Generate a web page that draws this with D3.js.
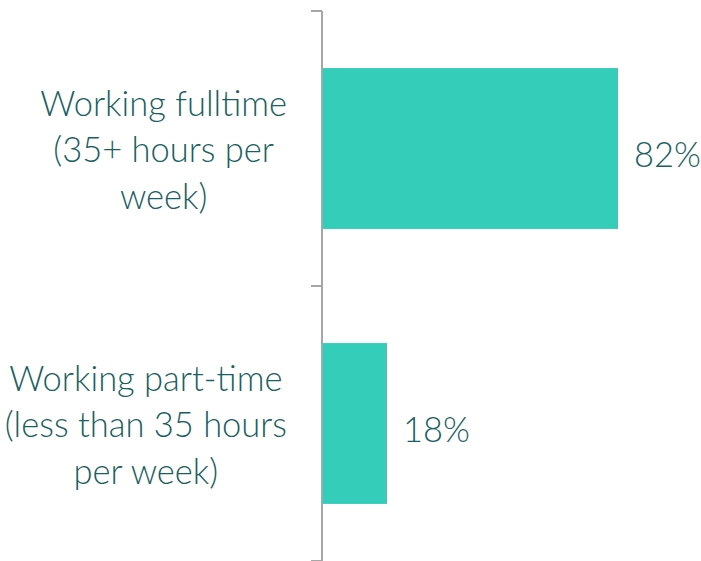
<!DOCTYPE html>
<html>
<head>
<meta charset="utf-8">
<script src="https://cdn.jsdelivr.net/npm/d3@7"></script>
<style>
  body { margin: 0; background: #fff; }
  svg { display: block; }
</style>
</head>
<body>
<svg width="701" height="561"></svg>
<script>
var svg = d3.select('svg');

// Chart data
var categories = ['fulltime', 'parttime'];
var labelLines = [
    ['Working fulltime', '(35+ hours per', 'week)'],
    ['Working part-time', '(less than 35 hours', 'per week)']
];
var values = [82, 18];

var axisX = 322;
var labelRight = 287;
var fontFamily = 'Lato, "Open Sans", sans-serif';
var textColor = '#1b5f5f';
var barColor = '#33cdb9';
var fontSize = '34.5px';

var x = d3.scaleLinear()
    .domain([0, 100])
    .range([axisX, axisX + 361]);

var y = d3.scaleBand()
    .domain(categories)
    .range([11, 561])
    .paddingInner(0.415)
    .paddingOuter(0.2075);

// Bars
svg.selectAll('.bar')
    .data(categories)
    .enter()
    .append('rect')
    .attr('class', 'bar')
    .attr('x', x(0))
    .attr('y', function(d) { return y(d); })
    .attr('width', function(d, i) { return x(values[i]) - x(0); })
    .attr('height', y.bandwidth())
    .attr('fill', barColor);

// Axis line and tick marks at band boundaries
var step = y.step();
var tickYs = d3.range(categories.length + 1).map(function(i) {
    return y.range()[0] + i * step;
});
svg.append('line')
    .attr('x1', axisX).attr('x2', axisX)
    .attr('y1', tickYs[0]).attr('y2', tickYs[tickYs.length - 1])
    .attr('stroke', '#a6a6a6')
    .attr('stroke-width', 2);
svg.selectAll('.tick')
    .data(tickYs)
    .enter()
    .append('line')
    .attr('class', 'tick')
    .attr('x1', axisX - 11).attr('x2', axisX)
    .attr('y1', function(d) { return d; })
    .attr('y2', function(d) { return d; })
    .attr('stroke', '#a6a6a6')
    .attr('stroke-width', 2);

// Value labels
svg.selectAll('.value')
    .data(categories)
    .enter()
    .append('text')
    .attr('class', 'value')
    .attr('x', function(d, i) { return x(values[i]) + 16; })
    .attr('y', function(d) { return y(d) + y.bandwidth() / 2 + 5; })
    .attr('dominant-baseline', 'central')
    .style('font-family', fontFamily)
    .style('font-weight', 300)
    .style('font-size', fontSize)
    .style('fill', textColor)
    .text(function(d, i) { return values[i] + '%'; });

// Category labels: block right-aligned, lines centred inside the block
var lineHeight = 46.5;
categories.forEach(function(c, i) {
    var lines = labelLines[i];
    var g = svg.append('g').attr('class', 'cat-label');
    var cy = y(c) + y.bandwidth() / 2;
    var texts = g.selectAll('text')
        .data(lines)
        .enter()
        .append('text')
        .attr('y', function(d, j) { return cy + (j - (lines.length - 1) / 2) * lineHeight; })
        .attr('dominant-baseline', 'central')
        .attr('text-anchor', 'middle')
        .style('font-family', fontFamily)
        .style('font-weight', 300)
        .style('font-size', fontSize)
        .style('fill', textColor)
        .text(function(d) { return d; });
    var maxW = 0;
    texts.each(function() { maxW = Math.max(maxW, this.getComputedTextLength()); });
    texts.attr('x', labelRight - maxW / 2);
});
</script>
</body>
</html>
